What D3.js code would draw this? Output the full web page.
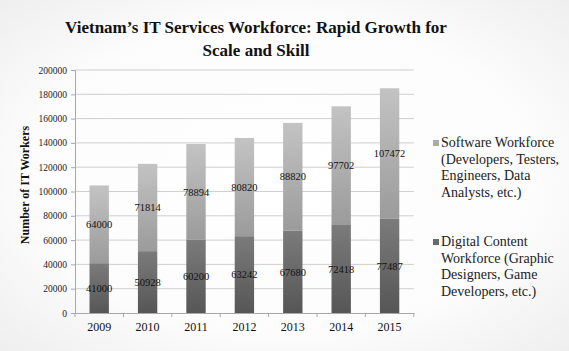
<!DOCTYPE html>
<html>
<head>
<meta charset="utf-8">
<script src="https://cdn.jsdelivr.net/npm/d3@7"></script>
<style>
  html, body { margin: 0; padding: 0; }
  body { width: 569px; height: 351px; overflow: hidden; }
  text { font-family: "Liberation Serif", "DejaVu Serif", serif; }
</style>
</head>
<body>
<div id="chart"></div>
<script>
// data
const years = ["2009", "2010", "2011", "2012", "2013", "2014", "2015"];
const digital = [41000, 50928, 60200, 63242, 67680, 72418, 77487];
const software = [64000, 71814, 78894, 80820, 88820, 97702, 107472];
const yTicks = [0, 20000, 40000, 60000, 80000, 100000, 120000, 140000, 160000, 180000, 200000];
const legendLines = [
  ["Software Workforce", "(Developers, Testers,", "Engineers, Data", "Analysts, etc.)"],
  ["Digital Content", "Workforce (Graphic", "Designers, Game", "Developers, etc.)"]
];

(function chart(){
  const W = 569, H = 351;
  const margin = {top: 70, left: 75, right: 155, bottom: 38};

  const svg = d3.select("#chart")
    .append("svg")
    .attr("width", W)
    .attr("height", H);

  const defs = svg.append("defs");
  const bg = defs.append("radialGradient").attr("id", "bg")
    .attr("cx", "50%").attr("cy", "50%").attr("r", "75%");
  bg.append("stop").attr("offset", "0%").attr("stop-color", "#ffffff");
  bg.append("stop").attr("offset", "60%").attr("stop-color", "#fcfcfc");
  bg.append("stop").attr("offset", "100%").attr("stop-color", "#ececec");

  function vgrad(id, top, bottom) {
    const g = defs.append("linearGradient").attr("id", id)
      .attr("x1", 0).attr("y1", 0).attr("x2", 0).attr("y2", 1);
    g.append("stop").attr("offset", "0%").attr("stop-color", top);
    g.append("stop").attr("offset", "100%").attr("stop-color", bottom);
  }
  vgrad("gSoft", "#c3c3c3", "#9b9b9b");
  vgrad("gDig", "#7b7b7b", "#565656");

  svg.append("rect")
    .attr("width", W).attr("height", H)
    .attr("fill", "url(#bg)");

  // title
  const title = svg.append("text")
    .attr("text-anchor", "middle")
    .attr("font-weight", "bold")
    .attr("font-size", 17)
    .attr("fill", "#111");
  title.append("tspan").attr("x", 256).attr("y", 33).text("Vietnam\u2019s IT Services Workforce: Rapid Growth for");
  title.append("tspan").attr("x", 256).attr("y", 56).text("Scale and Skill");

  const plotW = 48.4 * years.length;
  const x = d3.scaleBand()
    .domain(years)
    .range([margin.left, margin.left + plotW])
    .paddingInner(0.6).paddingOuter(0.3);

  const y = d3.scaleLinear()
    .domain([0, 200000])
    .range([313, 70]);

  // gridlines
  svg.append("g")
    .selectAll("line")
    .data(yTicks.slice(1))
    .enter()
    .append("line")
      .attr("x1", margin.left).attr("x2", margin.left + plotW)
      .attr("y1", d => y(d)).attr("y2", d => y(d))
      .attr("stroke", "#cfcfcf")
      .attr("stroke-width", 1);

  // y axis
  const yAxis = svg.append("g")
    .attr("transform", "translate(" + margin.left + ",0)")
    .call(d3.axisLeft(y).tickValues(yTicks).tickFormat(d3.format("d")).tickSize(4).tickPadding(4));
  yAxis.select(".domain").attr("stroke", "#a8a8a8");
  yAxis.selectAll(".tick line").attr("stroke", "#a8a8a8");
  yAxis.selectAll("text")
    .attr("font-family", "Liberation Serif, serif")
    .attr("font-size", 9.5)
    .attr("fill", "#222");

  // stacked bars
  const rows = years.map((yr, i) => ({year: yr, digital: digital[i], software: software[i]}));
  const stack = d3.stack().keys(["digital", "software"])(rows);
  const fills = {digital: "url(#gDig)", software: "url(#gSoft)"};

  const layers = svg.selectAll("g.layer")
    .data(stack)
    .enter()
    .append("g")
    .attr("class", "layer")
    .attr("fill", d => fills[d.key]);

  layers.selectAll("rect")
    .data(d => d)
    .enter()
    .append("rect")
      .attr("x", d => x(d.data.year))
      .attr("width", x.bandwidth())
      .attr("y", d => y(d[1]))
      .attr("height", d => y(d[0]) - y(d[1]));

  layers.selectAll("text")
    .data(d => d.map(v => ({v: v, key: d.key})))
    .enter()
    .append("text")
      .attr("x", d => x(d.v.data.year) + x.bandwidth() / 2)
      .attr("y", d => (y(d.v[0]) + y(d.v[1])) / 2)
      .attr("dy", "0.35em")
      .attr("text-anchor", "middle")
      .attr("font-size", 10.5)
      .attr("fill", "#111")
      .text(d => d.v.data[d.key]);

  // x axis
  const xAxis = svg.append("g")
    .attr("transform", "translate(0,313)")
    .call(d3.axisBottom(x).tickSize(0).tickPadding(9));
  xAxis.select(".domain").attr("stroke", "#a8a8a8");
  xAxis.selectAll("text")
    .attr("font-family", "Liberation Serif, serif")
    .attr("font-size", 12)
    .attr("fill", "#111");
  // tick marks between categories
  xAxis.selectAll("line.sep")
    .data(d3.range(years.length + 1))
    .enter()
    .append("line")
      .attr("class", "sep")
      .attr("x1", i => margin.left + i * x.step()).attr("x2", i => margin.left + i * x.step())
      .attr("y1", 0).attr("y2", 4)
      .attr("stroke", "#a8a8a8");

  // y axis title
  svg.append("text")
    .attr("transform", "translate(29,185) rotate(-90)")
    .attr("text-anchor", "middle")
    .attr("font-weight", "bold")
    .attr("font-size", 12)
    .attr("fill", "#111")
    .text("Number of IT Workers");

  // legend
  const legendColors = ["#ababab", "#6a6a6a"];
  const legendY = [147, 246];
  const legend = svg.selectAll("g.legend")
    .data(legendLines)
    .enter()
    .append("g")
    .attr("class", "legend")
    .attr("transform", (d, i) => "translate(433," + legendY[i] + ")");
  legend.append("rect")
    .attr("x", 0).attr("y", -7)
    .attr("width", 6).attr("height", 6)
    .attr("fill", (d, i) => legendColors[i]);
  legend.append("text")
    .attr("font-size", 14)
    .attr("fill", "#222")
    .selectAll("tspan")
    .data(d => d)
    .enter()
    .append("tspan")
      .attr("x", 8)
      .attr("y", (d, i) => i * 16.7)
      .text(d => d);
})();
</script>
</body>
</html>
